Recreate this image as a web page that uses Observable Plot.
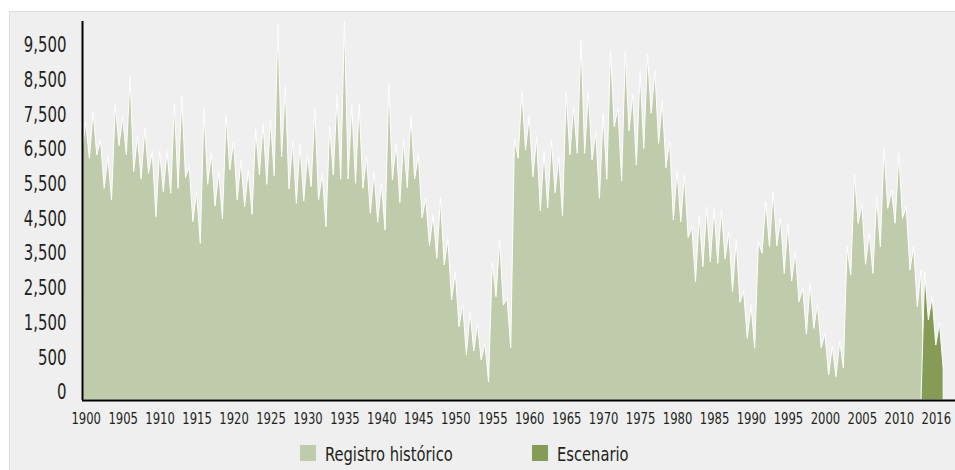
<!DOCTYPE html>
<html>
<head>
<meta charset="utf-8">
<script src="https://cdn.jsdelivr.net/npm/d3@7"></script>
<script src="https://cdn.jsdelivr.net/npm/@observablehq/plot@0.6"></script>
<style>
  html, body { margin: 0; padding: 0; background: #ffffff; width: 955px; height: 470px; overflow: hidden; }
  #panel { position: absolute; left: 9px; top: 11px; width: 960px; height: 470px; background: #efefef;
           border-left: 1px solid #dcdcdc; border-top: 1px solid #dcdcdc; }
  #chart { position: absolute; left: 0; top: 0; }
  .font { font-family: "Liberation Sans Narrow", "Arial Narrow", "DejaVu Sans Condensed", sans-serif; }
  .leg { position: absolute; height: 20px; line-height: 20px; font-size: 19px; color: #231f20; white-space: nowrap;
         transform: scaleX(0.86); transform-origin: left center; }
  .sw { position: absolute; width: 16px; height: 16px; }
</style>
</head>
<body>
<div id="panel"></div>
<div id="chart"></div>
<div class="sw" id="sw1" style="left:300px; top:445px;"></div>
<div class="leg font" id="lg1" style="left:325px; top:444px;"></div>
<div class="sw" id="sw2" style="left:532px; top:445px;"></div>
<div class="leg font" id="lg2" style="left:557px; top:444px;"></div>
<script>
// ---- data (two readings per year, starting 1899.5) ----
const startYear = 1899.5;
const stepYears = 0.5;

const registroHistorico = [
  7205, 8003, 6965, 8310, 7061, 7493, 6100, 7013, 5764, 8502,
  7330, 8166, 7061, 9338, 6581, 7618, 6369, 7829, 6533, 7157,
  5284, 7176, 6004, 7176, 5956, 8550, 6100, 8742, 6408, 6725,
  5140, 6004, 4515, 8406, 6215, 7109, 5591, 6581, 5216, 8214,
  6629, 7464, 5764, 6917, 5572, 6629, 5351, 7800, 6485, 7973,
  6215, 8098, 6466, 10855, 7013, 9030, 6081, 7464, 5668, 7368,
  5735, 7061, 6148, 8387, 5764, 6533, 4996, 7897, 6485, 8790,
  6369, 10903, 6369, 8502, 6245, 8521, 6100, 7013, 5380, 6581,
  5121, 6245, 4899, 9127, 6340, 7397, 5687, 7493, 6119, 8214,
  6369, 7080, 5255, 5831, 4448, 5332, 4083, 5831, 3891, 4640,
  2882, 3699, 2114, 2757, 1297, 2546, 1412, 2209, 1153, 1633,
  528, 3987, 2978, 4611, 2738, 2930, 1508, 7541, 6965,
  8905, 7205, 8166, 6437, 7589, 5447, 7157, 5543, 7493, 5975,
  6984, 5313, 8867, 7061, 8454, 7109, 10375, 7109, 8867, 6917,
  7733, 5812, 8243, 6360, 10087, 7877, 8406, 6321, 10039, 7753,
  8809, 6773, 9482, 7253, 9962, 8262, 9482, 7397, 8617,
  6696, 7464, 5188, 6629, 5140, 6504, 4678, 4996, 3410, 5284,
  3843, 5572, 3987, 5524, 3939, 5476, 4064, 4852, 3122, 4640,
  2815, 3141, 1777, 2738, 1489, 4563, 4227, 5716, 4419, 6004,
  4438, 5236, 3650, 5091, 3430, 4275, 2834, 3238, 1900,
  3362, 2065, 2786, 1508, 1921, 721, 1537, 673, 1681, 932,
  4419, 3603, 6504, 5091, 5639, 3910, 4803, 3650, 5860, 4419,
  7253, 5524, 6052, 5091, 7109, 5236, 5572, 3747, 4419, 2690, 3747
];
const escenario = [3699, 2306, 2978, 1585, 2209, 913];

const seriesNames = ["Registro histórico", "Escenario"];
const seriesColors = ["#c0cbab", "#869c56"];

const yTickValues = [0, 1000, 2000, 3000, 4000, 5000, 6000, 7000, 8000, 9000, 10000];
const yTickLabels = ["0", "500", "1,500", "2,500", "3,500", "4,500", "5,500", "6,500", "7,500", "8,500", "9,500"];
const xTickYears = [1900, 1905, 1910, 1915, 1920, 1925, 1930, 1935, 1940, 1945, 1950, 1955, 1960,
                    1965, 1970, 1975, 1980, 1985, 1990, 1995, 2000, 2005, 2010, 2015];
const xTickLabels = ["1900", "1905", "1910", "1915", "1920", "1925", "1930", "1935", "1940", "1945", "1950", "1955", "1960",
                     "1965", "1970", "1975", "1980", "1985", "1990", "1995", "2000", "2005", "2010", "2016"];

// ---- tables (empty cells treated as zero, as in the source spreadsheet chart) ----
const nHist = registroHistorico.length;
const histRows = registroHistorico.map((v, i) => ({year: startYear + i * stepYears, value: v}));
histRows.push({year: startYear + nHist * stepYears, value: 0});
const escRows = [{year: startYear + (nHist - 1) * stepYears, value: 0}]
  .concat(escenario.map((v, i) => ({year: startYear + (nHist + i) * stepYears, value: v})));

const FONT = '"Liberation Sans Narrow", "Arial Narrow", "DejaVu Sans Condensed", sans-serif';

const chart = Plot.plot({
  width: 955,
  height: 430,
  marginLeft: 82,
  marginRight: 0,
  marginTop: 21,
  marginBottom: 30,
  style: {background: "transparent", fontFamily: FONT, color: "#231f20", overflow: "visible"},
  x: {domain: [1899.5, 2017.6]},
  y: {domain: [0, 10922]},
  marks: [
    Plot.areaY(histRows, {x: "year", y: "value", fill: seriesColors[0], stroke: "white", strokeWidth: 1}),
    Plot.areaY(escRows, {x: "year", y: "value", fill: seriesColors[1], stroke: "white", strokeWidth: 1}),
    Plot.axisY({
      ticks: yTickValues,
      tickFormat: d => yTickLabels[yTickValues.indexOf(d)],
      tickSize: 0, tickPadding: 16, fontSize: 21, dy: -8, label: null
    }),
    Plot.axisX({
      ticks: xTickYears,
      tickFormat: d => xTickLabels[xTickYears.indexOf(d)],
      tickSize: 0, tickPadding: 13, fontSize: 15, label: null
    }),
    Plot.ruleY([0], {stroke: "#000", strokeWidth: 2}),
    Plot.ruleX([startYear], {stroke: "#000", strokeWidth: 2})
  ]
});
document.getElementById("chart").appendChild(chart);

// condense the axis labels to mimic the narrow typeface of the original
chart.querySelectorAll("text").forEach(t => {
  const g = t.closest("g[aria-label]");
  const lab = g ? g.getAttribute("aria-label") : "";
  const f = lab.includes("y-axis") ? 0.79 : 0.86;
  const w = t.getComputedTextLength();
  if (w > 0) {
    t.setAttribute("textLength", (w * f).toFixed(2));
    t.setAttribute("lengthAdjust", "spacingAndGlyphs");
  }
});

document.getElementById("sw1").style.background = seriesColors[0];
document.getElementById("sw2").style.background = seriesColors[1];
document.getElementById("lg1").textContent = seriesNames[0];
document.getElementById("lg2").textContent = seriesNames[1];
</script>
</body>
</html>
